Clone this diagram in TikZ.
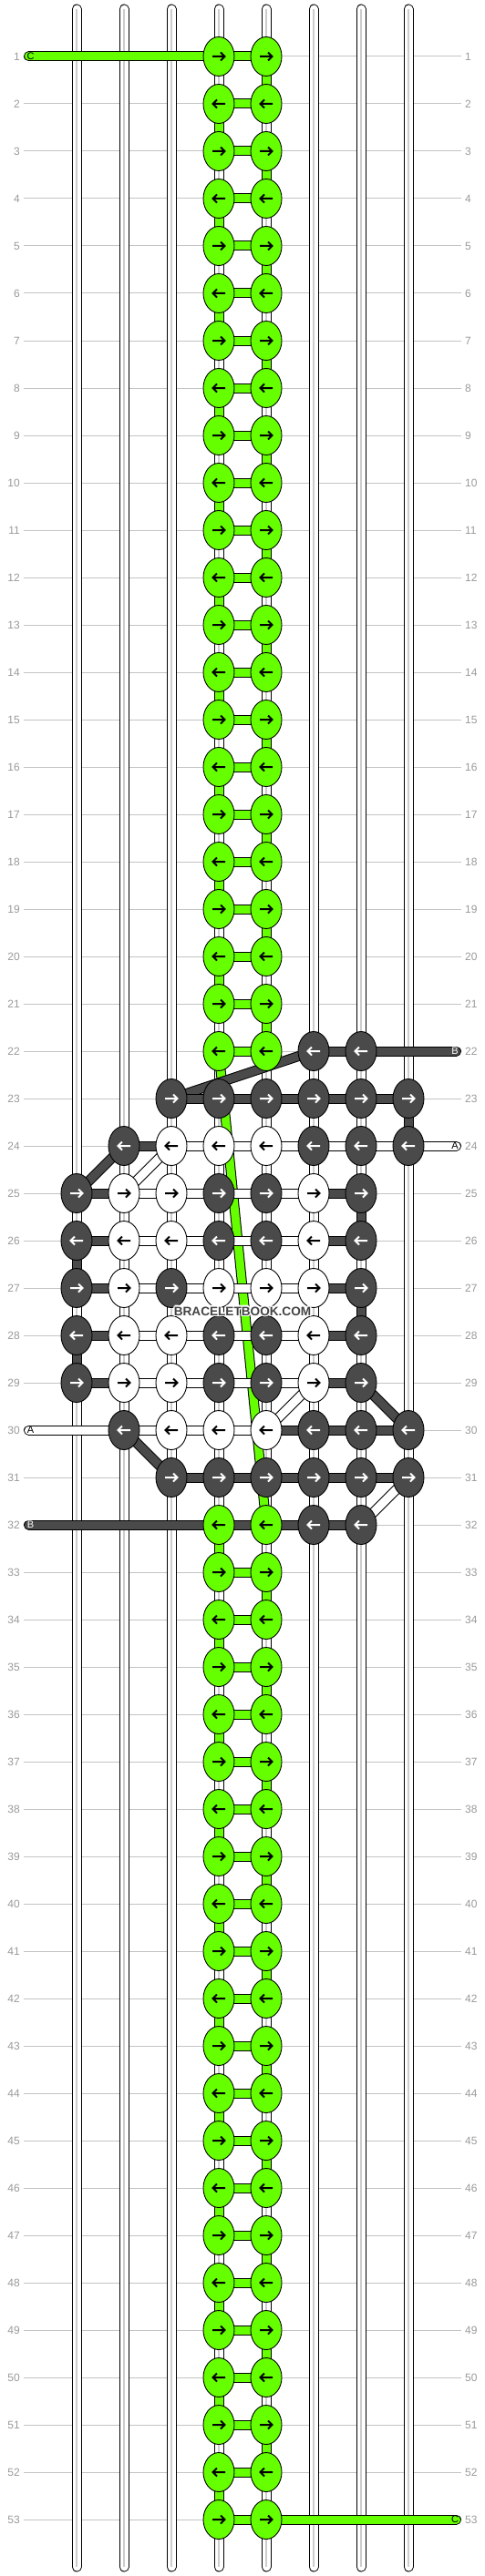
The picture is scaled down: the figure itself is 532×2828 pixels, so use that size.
\documentclass[tikz,border=0pt]{standalone}
\usepackage{fontspec}
\setmainfont{Liberation Sans}
\usetikzlibrary{shapes.geometric}
\definecolor{G}{HTML}{66FF00}
\definecolor{D}{HTML}{4A4A4A}
\definecolor{W}{HTML}{FFFFFF}
\definecolor{gridc}{HTML}{C4C4C4}
\definecolor{labc}{HTML}{9A9A9A}
\definecolor{strmid}{HTML}{CCCCCC}
\definecolor{wmc}{HTML}{444444}
\pgfdeclarelayer{bg}
\pgfdeclarelayer{grid}
\pgfdeclarelayer{strings}
\pgfdeclarelayer{gdiag}
\pgfdeclarelayer{diag}
\pgfdeclarelayer{vert}
\pgfdeclarelayer{horiz}
\pgfdeclarelayer{top}
\pgfsetlayers{bg,grid,strings,gdiag,diag,vert,horiz,main,top}
\tikzset{
  knot/.style={ellipse, draw=black, line width=0.9pt, minimum width=34pt, minimum height=43pt, inner sep=0pt, outer sep=0pt},
  band/.style={draw=black, line width=1pt, double distance=9pt},
  strand/.style={draw=black, line width=1pt, double distance=9pt, double=white, line cap=round},
  strandmid/.style={strmid, line width=1.3pt},
  gridline/.style={gridc, line width=1pt, shorten <=4pt, shorten >=4pt},
  rowlab/.style={inner sep=0pt, text=labc, font=\fontsize{12}{14}\selectfont},
  endlab/.style={inner sep=0pt, font=\fontsize{11}{13}\selectfont},
  arr/.style={line width=2pt, line cap=butt, line join=miter},
  aG/.style={black}, aW/.style={black}, aD/.style={white},
  dR/.style={}, dL/.style={xscale=-1},
  wm/.style={inner sep=0pt, font=\fontsize{13.6}{16}\selectfont\bfseries},
}
\newcommand\kn[4]{%
  \node[knot, fill=#3] (k-#1-#2) at ({84+52*#2},{10+52*#1}) {};
  \draw[arr, a#3, shift={(k-#1-#2.center)}, d#4] (-7,0) -- (6,0) (2,-4.5) -- (6.5,0) -- (2,4.5);
}
\newcommand\hc[4]{\draw[band, double=#4] (k-#1-#2.center) -- (k-#1-#3.center);}
\newcommand\vc[4]{\draw[band, double=#4] (k-#2-#1.center) -- (k-#3-#1.center);}
\begin{document}
\begin{tikzpicture}[x=1pt,y=-1pt]
\begin{pgfonlayer}{bg}
\useasboundingbox[fill=white] (0,0) rectangle (532,2828);
\end{pgfonlayer}
% row lines and labels
\foreach \r in {1,...,53} {
  \node[rowlab, anchor=east] (ll-\r) at (22,{10+52*\r}) {\r};
  \node[rowlab, anchor=west] (rl-\r) at (510,{10+52*\r}) {\r};
  \begin{pgfonlayer}{grid}
  \draw[gridline] (ll-\r.east) -- (rl-\r.west);
  \end{pgfonlayer}
}
% strings
\begin{pgfonlayer}{strings}
\foreach \c in {0,...,7} {
  \coordinate (st\c) at ({84+52*\c},10);
  \coordinate (sb\c) at ({84+52*\c},2818);
  \draw[strand] (st\c) -- (sb\c);
  \draw[strandmid] (st\c) -- (sb\c);
}
\end{pgfonlayer}
% knots: ladders
\foreach \r in {1,...,21} {\ifodd\r\relax \kn{\r}{3}{G}{R}\kn{\r}{4}{G}{R}\else \kn{\r}{3}{G}{L}\kn{\r}{4}{G}{L}\fi}
\foreach \r in {33,...,53} {\ifodd\r\relax \kn{\r}{3}{G}{R}\kn{\r}{4}{G}{R}\else \kn{\r}{3}{G}{L}\kn{\r}{4}{G}{L}\fi}
% knots: pattern
\kn{22}{3}{G}{L}\kn{22}{4}{G}{L}\kn{22}{5}{D}{L}\kn{22}{6}{D}{L}
\foreach \c in {2,...,7} {\kn{23}{\c}{D}{R}}
\foreach \c/\k in {1/D,2/W,3/W,4/W,5/D,6/D,7/D} {\kn{24}{\c}{\k}{L}}
\foreach \c/\k in {0/D,1/W,2/W,3/D,4/D,5/W,6/D} {\kn{25}{\c}{\k}{R}}
\foreach \c/\k in {0/D,1/W,2/W,3/D,4/D,5/W,6/D} {\kn{26}{\c}{\k}{L}}
\foreach \c/\k in {0/D,1/W,2/D,3/W,4/W,5/W,6/D} {\kn{27}{\c}{\k}{R}}
\foreach \c/\k in {0/D,1/W,2/W,3/D,4/D,5/W,6/D} {\kn{28}{\c}{\k}{L}}
\foreach \c/\k in {0/D,1/W,2/W,3/D,4/D,5/W,6/D} {\kn{29}{\c}{\k}{R}}
\foreach \c/\k in {1/D,2/W,3/W,4/W,5/D,6/D,7/D} {\kn{30}{\c}{\k}{L}}
\foreach \c in {2,...,7} {\kn{31}{\c}{D}{R}}
\kn{32}{3}{G}{L}\kn{32}{4}{G}{L}\kn{32}{5}{D}{L}\kn{32}{6}{D}{L}
% thread ends
\coordinate (eC1) at (31.5,62);
\coordinate (eC53) at (500.5,2766);
\coordinate (eB22) at (500.5,1154);
\coordinate (eA24) at (500.5,1258);
\coordinate (eA30) at (31.5,1570);
\coordinate (eB32) at (31.5,1674);
% long green diagonal
\begin{pgfonlayer}{gdiag}
\draw[band, double=G] (k-22-3.center) -- (k-32-4.center);
\end{pgfonlayer}
% diagonals
\begin{pgfonlayer}{diag}
\draw[band, double=D] (k-22-5.center) -- (k-23-2.center);
\draw[band, double=D] (k-24-1.center) -- (k-25-0.center);
\draw[band, double=W] (k-24-2.center) -- (k-25-1.center);
\draw[band, double=D] (k-29-6.center) -- (k-30-7.center);
\draw[band, double=W] (k-29-5.center) -- (k-30-4.center);
\draw[band, double=D] (k-30-1.center) -- (k-31-2.center);
\draw[band, double=W] (k-31-7.center) -- (k-32-6.center);
\end{pgfonlayer}
% verticals
\begin{pgfonlayer}{vert}
\foreach \r [evaluate=\r as \s using int(\r+1)] in {1,...,21} {\ifodd\r\relax \vc{4}{\r}{\s}{G}\else \vc{3}{\r}{\s}{G}\fi}
\foreach \r [evaluate=\r as \s using int(\r+1)] in {32,...,52} {\ifodd\r\relax \vc{4}{\r}{\s}{G}\else \vc{3}{\r}{\s}{G}\fi}
\vc{7}{23}{24}{D}
\vc{6}{25}{26}{D}
\vc{0}{26}{27}{D}
\vc{6}{27}{28}{D}
\vc{0}{28}{29}{D}
\end{pgfonlayer}
% horizontals
\begin{pgfonlayer}{horiz}
\foreach \r in {1,...,22} {\hc{\r}{3}{4}{G}}
\foreach \r in {33,...,53} {\hc{\r}{3}{4}{G}}
\draw[band, double=G, line cap=round] (eC1) -- (k-1-3.center);
\draw[band, double=G, line cap=round] (eC53) -- (k-53-4.center);
\hc{22}{5}{6}{D}
\draw[band, double=D, line cap=round] (eB22) -- (k-22-6.center);
\foreach \c [evaluate=\c as \d using int(\c+1)] in {2,...,6} {\hc{23}{\c}{\d}{D}\hc{31}{\c}{\d}{D}}
\hc{24}{1}{2}{D}
\foreach \c [evaluate=\c as \d using int(\c+1)] in {2,...,6} {\hc{24}{\c}{\d}{W}}
\draw[band, double=W, line cap=round] (eA24) -- (k-24-7.center);
\foreach \r in {25,...,29} {
  \hc{\r}{0}{1}{D}\hc{\r}{1}{2}{W}\hc{\r}{2}{3}{W}\hc{\r}{3}{4}{W}\hc{\r}{4}{5}{W}\hc{\r}{5}{6}{D}
}
\draw[band, double=W, line cap=round] (eA30) -- (k-30-1.center);
\hc{30}{1}{2}{W}\hc{30}{2}{3}{W}\hc{30}{3}{4}{W}\hc{30}{4}{5}{D}\hc{30}{5}{6}{D}\hc{30}{6}{7}{D}
\draw[band, double=D, line cap=round] (eB32) -- (k-32-3.center);
\hc{32}{3}{4}{D}\hc{32}{4}{5}{D}\hc{32}{5}{6}{D}
\end{pgfonlayer}
% labels and watermark
\begin{pgfonlayer}{top}
\node[endlab, text=black] (lC1) at (33.5,62) {C};
\node[endlab, text=black] (lC53) at (499,2766) {C};
\node[endlab, text=white] (lB22) at (499,1154) {B};
\node[endlab, text=black] (lA24) at (499,1258) {A};
\node[endlab, text=black] (lA30) at (33.5,1570) {A};
\node[endlab, text=white] (lB32) at (33.5,1674) {B};
\foreach \dx/\dy [count=\i] in {1.3/0,-1.3/0,0/1.3,0/-1.3,0.95/0.95,-0.95/0.95,0.95/-0.95,-0.95/-0.95} {
  \node[wm, text=white] (wmh\i) at ({266+\dx},{1439.5+\dy}) {BRACELETBOOK.COM};
}
\node[wm, text=wmc] (wm) at (266,1439.5) {BRACELETBOOK.COM};
\end{pgfonlayer}
\end{tikzpicture}
\end{document}
